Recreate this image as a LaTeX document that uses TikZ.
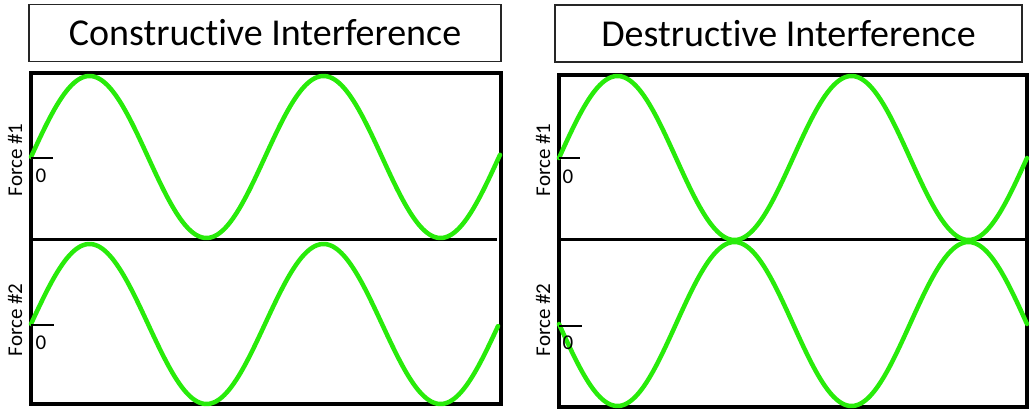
\documentclass[tikz,border=0pt]{standalone}
\usepackage{fontspec}
\setmainfont[Ligatures=NoCommon]{Carlito}
\definecolor{wavegreen}{RGB}{40,235,10}
\begin{document}
\begin{tikzpicture}[x=1pt,y=-1pt,
  titlebox/.style={draw=black!85,line width=1.3pt,minimum width=#1,minimum height=57pt,inner sep=0pt,font=\fontsize{38}{40}\selectfont},
  frame/.style={draw=black,line width=3.5pt},
  divider/.style={draw=black,line width=3pt},
  wave/.style={draw=wavegreen,line width=4.5pt,line cap=round,line join=round},
  tick/.style={draw=black,line width=2.5pt},
  axislabel/.style={rotate=90,font=\fontsize{21}{23}\selectfont,inner sep=0pt},
  zerolabel/.style={font=\fontsize{21}{23}\selectfont,inner sep=0pt}]
\useasboundingbox (0,0) rectangle (1030,411);
\fill[white] (0,0) rectangle (1030,411);

% titles
\node[titlebox=472pt] (t1) at (265,33) {Constructive Interference};
\node[titlebox=467pt] (t2) at (788.5,33.5) {Destructive Interference};

% left panel
\draw[frame] (31,73) rectangle (501,404);
\draw[divider] (31,240) -- (497,240);
\draw[wave] plot[domain=0:469,samples=240] ({31+\x},{157-81*sin(\x*1.53846)});
\draw[wave] plot[domain=0:467,samples=240] ({31+\x},{324-80*sin(\x*1.53846)});
\coordinate (l1a) at (31,158); \coordinate (l1b) at (53,158);
\draw[tick] (l1a) -- (l1b);
\coordinate (l2a) at (31,325); \coordinate (l2b) at (54,325);
\draw[tick] (l2a) -- (l2b);
\node[zerolabel] (z1) at (41,176) {0};
\node[zerolabel] (z2) at (41,343) {0};
\node[axislabel] (f1) at (15,160) {Force \#1};
\node[axislabel] (f2) at (15,320) {Force \#2};

% right panel
\draw[frame] (559,75) rectangle (1027,407);
\draw[divider] (559,240) -- (1027,240);
\draw[wave] plot[domain=0:468,samples=240] ({559+\x},{158-82*sin(\x*1.53846)});
\draw[wave] plot[domain=0:468,samples=240] ({559+\x},{324+82*sin(\x*1.53846)});
\coordinate (r1a) at (559,158); \coordinate (r1b) at (580,158);
\draw[tick] (r1a) -- (r1b);
\coordinate (r2a) at (559,326); \coordinate (r2b) at (582,326);
\draw[tick] (r2a) -- (r2b);
\node[zerolabel] (z3) at (568,177) {0};
\node[zerolabel] (z4) at (568,343) {0};
\node[axislabel] (f3) at (543,160) {Force \#1};
\node[axislabel] (f4) at (543,320) {Force \#2};
\end{tikzpicture}
\end{document}
